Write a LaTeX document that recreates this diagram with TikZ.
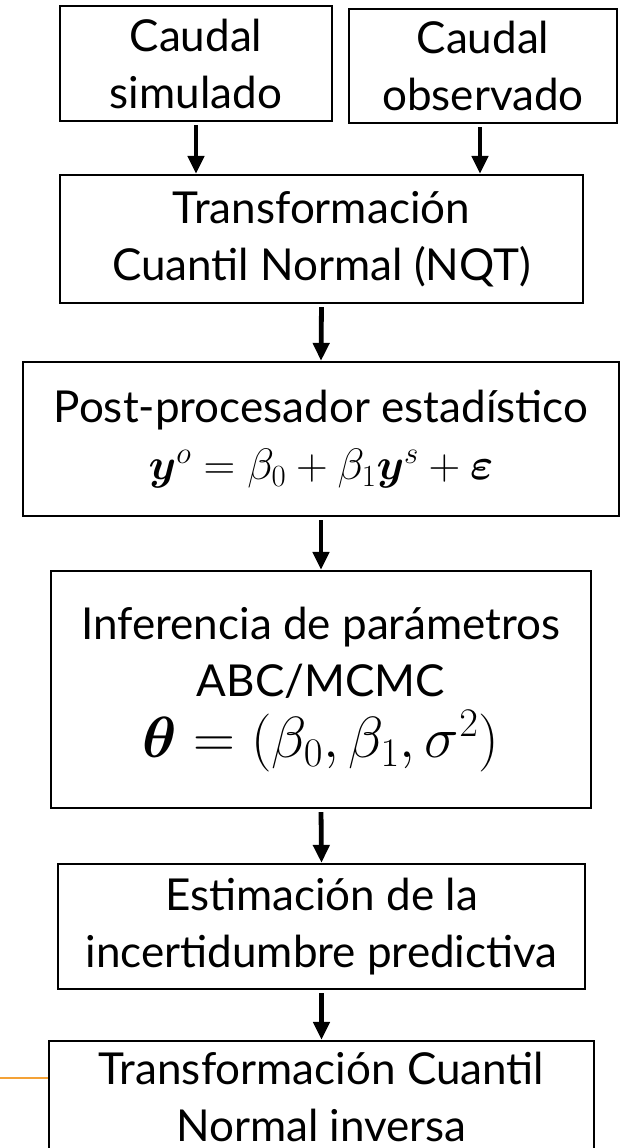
\RequirePackage{fix-cm}
\documentclass[tikz,border=0pt]{standalone}
\usepackage{amsmath}
\usepackage{bm}
\usepackage[no-math]{fontspec}
\setmainfont{Lato}
\usepackage{tikz}
\usetikzlibrary{positioning, arrows.meta, calc}
\definecolor{lineorange}{HTML}{F4A236}

\begin{document}
\begin{tikzpicture}[x=1pt, y=-1pt, >={Triangle[width=16pt,length=18pt]},
        caja/.style={draw, line width=2.2pt, align=center, inner sep=0pt,
            font=\fontsize{44}{57}\selectfont},
        flecha/.style={->, line width=4.8pt, shorten <=3pt}]
        % Recorte al tamaño de la figura
        \clip (0,0) rectangle (621,1148);

        % Cajas de entrada
        \node[caja, minimum width=272pt, minimum height=115pt] (caudal_sim) at (196,63.5) {Caudal\\simulado};
        \node[caja, minimum width=268pt, minimum height=114pt] (caudal_obs) at (483,66) {Caudal\\observado};

        % Cadena de procesos
        \node[caja, minimum width=523pt, minimum height=128pt] (nqt) at (321.5,239) {Transformación\\Cuantil Normal (NQT)};
        \node[caja, minimum width=596pt, minimum height=154pt] (postproc) at (321,439)
            {Post-procesador estadístico\\$\bm{y}^{o} = \beta_0 + \beta_1\bm{y}^{s} + \bm{\varepsilon}$};
        \node[caja, minimum width=540pt, minimum height=237pt] (inferencia) at (321,689.5)
            {Inferencia de parámetros\\ABC/MCMC\\[4pt]{\fontsize{58}{64}\selectfont $\bm{\theta} = (\beta_0, \beta_1, \sigma^2)$}};
        \node[caja, minimum width=527pt, minimum height=125pt] (incert) at (321.5,926.5) {Estimación de la\\incertidumbre predictiva};
        \node[caja, minimum width=545pt, minimum height=112pt] (nqt_inv) at (321.5,1097) {Transformación Cuantil\\Normal inversa};

        % Flechas
        \draw[flecha] (caudal_sim.south) -- (caudal_sim.south |- nqt.north);
        \draw[flecha] ([xshift=-3pt]caudal_obs.south) -- ([xshift=-3pt]caudal_obs.south |- nqt.north);
        \draw[flecha] (nqt.south) -- (postproc.north);
        \draw[flecha] (postproc.south) -- (inferencia.north);
        \draw[flecha] (inferencia.south) -- (incert.north);
        \draw[flecha] (incert.south) -- (nqt_inv.north);

        % Línea naranja
        \coordinate (borde_izq) at (0,1078);
        \draw[lineorange, line width=2pt] (borde_izq) -- (borde_izq -| nqt_inv.west);
    \end{tikzpicture}
\end{document}
